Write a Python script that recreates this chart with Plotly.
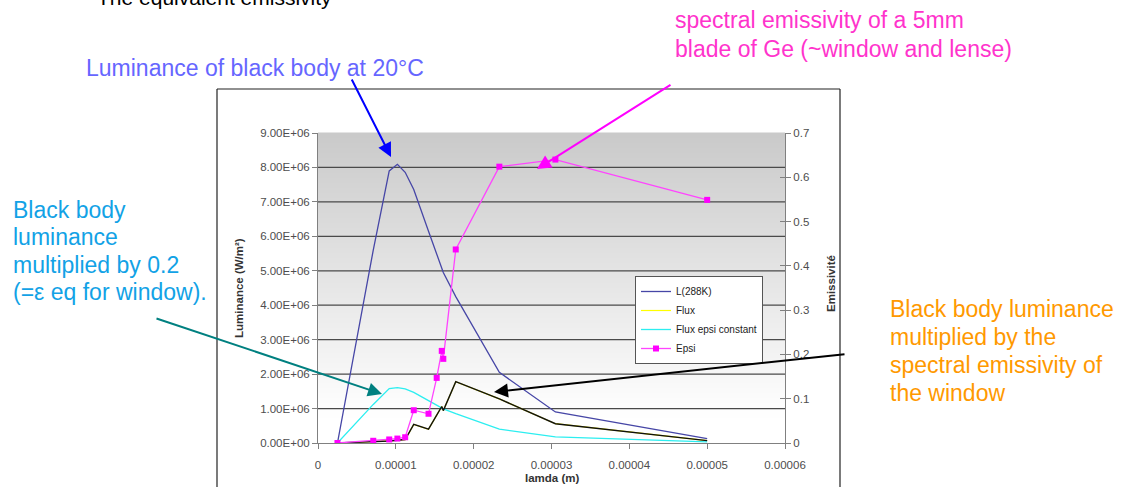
import plotly.graph_objects as go

# ---------------- data ----------------
lamda = [2.5e-6, 7.1e-6, 9.15e-6, 10.2e-6, 11.2e-6, 12.3e-6, 14.2e-6, 15.25e-6,
         15.9e-6, 16.1e-6, 17.7e-6, 23.3e-6, 30.5e-6, 50e-6]
L_288K = [0.0, 5.6e6, 7.9e6, 8.09e6, 7.86e6, 7.36e6, 6.15e6, 5.5e6,
          5.1e6, 4.95e6, 4.25e6, 2.05e6, 0.9e6, 0.13e6]
flux = [0.0, 0.03e6, 0.06e6, 0.08e6, 0.1e6, 0.54e6, 0.4e6, 0.81e6,
        1.06e6, 0.94e6, 1.78e6, 1.28e6, 0.56e6, 0.07e6]
flux_black = [0.0, 0.03e6, 0.06e6, 0.08e6, 0.1e6, 0.54e6, 0.4e6, 0.81e6,
              1.06e6, 0.94e6, 1.78e6, 1.28e6, 0.56e6, 0.07e6]
flux_epsi_constant = [0.0, 1.12e6, 1.58e6, 1.61e6, 1.57e6, 1.47e6, 1.23e6, 1.1e6,
                      1.02e6, 0.99e6, 0.85e6, 0.40e6, 0.18e6, 0.03e6]
epsi = [0.0, 0.005, 0.008, 0.01, 0.013, 0.074, 0.066, 0.147,
        0.208, 0.19, 0.437, 0.624, 0.64, 0.549]

x_tickvals = [0, 1e-5, 2e-5, 3e-5, 4e-5, 5e-5, 6e-5]
x_ticktext = ["0", "0.00001", "0.00002", "0.00003", "0.00004", "0.00005", "0.00006"]
y_tickvals = [0, 1e6, 2e6, 3e6, 4e6, 5e6, 6e6, 7e6, 8e6, 9e6]
y_ticktext = ["0.00E+00", "1.00E+06", "2.00E+06", "3.00E+06", "4.00E+06",
              "5.00E+06", "6.00E+06", "7.00E+06", "8.00E+06", "9.00E+06"]
y2_tickvals = [0, 0.1, 0.2, 0.3, 0.4, 0.5, 0.6, 0.7]
y2_ticktext = ["0", "0.1", "0.2", "0.3", "0.4", "0.5", "0.6", "0.7"]

# ---------------- layout geometry ----------------
W, H = 1124, 487
PL, PR, PT, PB = 318, 785, 133, 443   # plot area in pixels
FONT = "Liberation Sans, Arial, sans-serif"


def px(xp):
    return (xp - PL) / (PR - PL)


def py(yp):
    return (PB - yp) / (PB - PT)


fig = go.Figure()

fig.add_trace(go.Scatter(x=lamda, y=L_288K, name="L(288K)", mode="lines",
                         line=dict(color="#4646a6", width=1.3)))
fig.add_trace(go.Scatter(x=lamda, y=flux, name="Flux", mode="lines",
                         line=dict(color="#ffff00", width=1.2)))
fig.add_trace(go.Scatter(x=lamda, y=flux_epsi_constant, name="Flux epsi constant", mode="lines",
                         line=dict(color="#2ceef0", width=1.3)))
fig.add_trace(go.Scatter(x=lamda, y=flux_black, name="Flux (ε λ)", mode="lines", showlegend=False,
                         line=dict(color="#111111", width=1.4)))
fig.add_trace(go.Scatter(x=lamda, y=epsi, name="Epsi", mode="lines+markers", yaxis="y2",
                         line=dict(color="#ff44ff", width=1.3),
                         marker=dict(symbol="square", size=6, color="#ff00ff")))
# dummy trace carrying the inside ticks of the right axis
fig.add_trace(go.Scatter(x=[None], y=[None], yaxis="y3", showlegend=False, hoverinfo="skip"))

shapes = []
# gradient background of plot area
N = 62
for i in range(N):
    f0, f1 = i / N, (i + 1) / N
    fm = (f0 + f1) / 2
    g = max(0.0, min(1.0, (fm - 0.08) / 0.92))
    c = int(round(255 - (255 - 202) * g))
    shapes.append(dict(type="rect", xref="x domain", yref="y domain", x0=0, x1=1,
                       y0=f0, y1=f1 + 0.002, line=dict(width=0),
                       fillcolor=f"rgb({c},{c},{c})", layer="below"))
# horizontal gridlines
for v in y_tickvals[1:-1]:
    shapes.append(dict(type="line", xref="x domain", yref="y", x0=0, x1=1, y0=v, y1=v,
                       line=dict(color="#4a4a4a", width=1.3), layer="below"))
# chart area border (slide frame)
bx0, bx1, by0, by1 = px(217), px(840), py(89), py(495)
for (a, b, c_, d) in [(bx0, by1, bx0, by0), (bx0, by0, bx1, by0), (bx1, by0, bx1, by1)]:
    shapes.append(dict(type="line", xref="paper", yref="paper", x0=a, y0=b, x1=c_, y1=d,
                       line=dict(color="#222222", width=1.2)))

annotations = []


def add_lines(lines, x_left, centers, color, size, bold=False):
    for t, yc in zip(lines, centers):
        annotations.append(dict(text=f"<b>{t}</b>" if bold else t, xref="paper", yref="paper",
                                x=px(x_left), y=py(yc), xanchor="left", yanchor="middle",
                                showarrow=False, font=dict(family=FONT, size=size, color=color)))


add_lines(["The equivalent emissivity"], 95, [-3], "#000000", 21)
add_lines(["Luminance of black body at 20°C"], 84, [68], "#6666ff", 23)
add_lines(["spectral emissivity of a 5mm", "blade of Ge (~window and lense)"],
          673, [20, 49], "#ff33cc", 23)
add_lines(["Black body", "luminance", "multiplied by 0.2", "(=ε eq for window)."],
          11, [210, 237, 265, 292], "#12a2e6", 23)
add_lines(["Black body luminance", "multiplied by the", "spectral emissivity of", "the window"],
          888, [309, 337, 365, 393], "#ff9900", 23)


def add_arrow(tail, head, color):
    annotations.append(dict(text="", xref="paper", yref="paper", x=px(head[0]), y=py(head[1]),
                            ax=tail[0] - head[0], ay=tail[1] - head[1], showarrow=True,
                            arrowhead=2, arrowsize=1.4, arrowwidth=2, arrowcolor=color))


add_arrow((351, 78), (391, 157), "#0000ff")
add_arrow((672, 84), (537, 169), "#ff00ff")
add_arrow((155, 318), (382, 394), "#008080")
add_arrow((846, 354), (494, 392), "#000000")

# axis titles
annotations.append(dict(text="<b>lamda (m)</b>", xref="paper", yref="paper", x=px(552), y=py(478),
                        xanchor="center", yanchor="middle", showarrow=False,
                        font=dict(family=FONT, size=11.5, color="#333333")))
annotations.append(dict(text="<b>Luminance (W/m²)</b>", xref="paper", yref="paper", x=px(239),
                        y=py(288), xanchor="center", yanchor="middle", textangle=-90,
                        showarrow=False, font=dict(family=FONT, size=11.5, color="#333333")))
annotations.append(dict(text="<b>Emissivité</b>", xref="paper", yref="paper", x=px(831),
                        y=py(284), xanchor="center", yanchor="middle", textangle=-90,
                        showarrow=False, font=dict(family=FONT, size=11.5, color="#333333")))

tickfont = dict(family=FONT, size=11.5, color="#4d4d4d")
axis_common = dict(showgrid=False, zeroline=False, showline=True, linecolor="#808080",
                   linewidth=1, ticks="outside", ticklen=5, tickcolor="#808080",
                   tickwidth=1, tickfont=tickfont)

fig.update_layout(
    width=W, height=H,
    margin=dict(l=PL, r=W - PR, t=PT, b=H - PB, pad=0),
    paper_bgcolor="white", plot_bgcolor="white",
    font=dict(family=FONT),
    showlegend=True,
    legend=dict(x=px(635), y=py(276), xanchor="left", yanchor="top",
                bgcolor="white", bordercolor="#555555", borderwidth=1,
                font=dict(family=FONT, size=10, color="#222222"), tracegroupgap=0,
                itemwidth=30),
    xaxis=dict(range=[0, 6e-5], tickvals=x_tickvals, ticktext=x_ticktext,
               ticklabelstandoff=6, **axis_common),
    yaxis=dict(range=[0, 9e6], tickvals=y_tickvals, ticktext=y_ticktext, **axis_common),
    yaxis2=dict(range=[0, 0.7], tickvals=y2_tickvals, ticktext=y2_ticktext,
                overlaying="y", side="right", anchor="x", **axis_common),
    yaxis3=dict(range=[0, 0.7], tickvals=y2_tickvals, overlaying="y", side="right",
                anchor="x", showticklabels=False, showgrid=False, zeroline=False,
                showline=False, ticks="inside", ticklen=5, tickcolor="#808080"),
    shapes=shapes,
    annotations=annotations,
)

fig.write_html("out.html", config={"displayModeBar": False},
               post_script="document.body.style.margin='0px';document.body.style.overflow='hidden';")
